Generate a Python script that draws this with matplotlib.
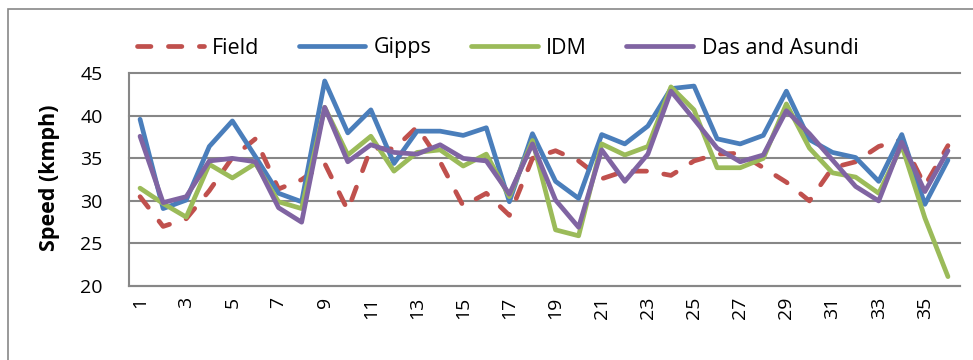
import matplotlib
matplotlib.use('Agg')
import matplotlib.pyplot as plt
from matplotlib.patches import Rectangle

plt.rcParams['font.family'] = ['Open Sans', 'DejaVu Sans']

points = list(range(1, 37))
tick_positions = list(range(1, 36, 2))
tick_labels = [str(t) for t in tick_positions]
y_ticks = [20, 25, 30, 35, 40, 45]

field = [30.5, 27.0, 27.9, 31.2, 35.1, 37.3, 31.4, 32.5, 34.4, 28.9, 36.2, 36.1,
         38.7, 34.6, 29.4, 30.9, 28.3, 35.0, 35.9, 34.7, 32.6, 33.5, 33.5, 33.0,
         34.7, 35.5, 35.6, 33.9, 32.2, 30.0, 33.9, 34.6, 36.4, 37.2, 31.8, 36.5]
gipps = [39.6, 29.1, 30.1, 36.4, 39.4, 35.2, 30.9, 29.9, 44.1, 38.0, 40.7, 34.4,
         38.2, 38.2, 37.7, 38.6, 29.9, 37.9, 32.3, 30.3, 37.8, 36.7, 38.8, 43.2,
         43.5, 37.3, 36.7, 37.7, 42.9, 37.2, 35.7, 35.1, 32.3, 37.8, 29.6, 34.8]
idm = [31.5, 29.7, 28.1, 34.3, 32.7, 34.4, 29.9, 29.1, 41.0, 35.4, 37.6, 33.5,
       35.7, 36.0, 34.1, 35.5, 30.5, 37.1, 26.6, 25.9, 36.7, 35.4, 36.4, 43.4,
       40.7, 33.9, 33.9, 35.0, 41.4, 36.2, 33.3, 32.8, 30.9, 36.5, 28.0, 21.1]
das = [37.6, 29.8, 30.5, 34.7, 35.0, 34.6, 29.2, 27.5, 41.0, 34.6, 36.6, 35.7,
       35.5, 36.6, 35.0, 34.7, 30.8, 36.7, 30.1, 26.9, 36.0, 32.3, 35.5, 42.9,
       39.6, 36.2, 34.6, 35.4, 40.6, 37.9, 34.8, 31.7, 30.0, 36.9, 31.1, 35.9]

W, H = 973, 360
fig = plt.figure(figsize=(W / 100, H / 100), dpi=100)
ax = fig.add_axes([128.5 / W, 1 - 286 / H, (959.5 - 128.5) / W, (286 - 73.3) / H])

lw = 3.4
ax.plot(points, field, color='#C0504D', lw=lw, dashes=(2.85, 3.7),
        dash_capstyle='round', solid_joinstyle='round', label='Field', zorder=3)
ax.plot(points, gipps, color='#4A7EBB', lw=lw, solid_joinstyle='round',
        solid_capstyle='round', label='Gipps', zorder=4)
ax.plot(points, idm, color='#9BBB59', lw=lw, solid_joinstyle='round',
        solid_capstyle='round', label='IDM', zorder=5)
ax.plot(points, das, color='#8064A2', lw=lw, solid_joinstyle='round',
        solid_capstyle='round', label='Das and Asundi', zorder=6)

ax.set_xlim(0.5, 36.5)
ax.set_ylim(20, 45)
ax.set_yticks(y_ticks)
ax.set_xticks(tick_positions)
ax.set_xticklabels(tick_labels, rotation=90)
ax.tick_params(axis='y', length=0, pad=18.5, labelsize=14, colors='#000000')
ax.tick_params(axis='x', length=0, pad=8, labelsize=14)

gc = '#878787'
ax.grid(axis='y', color=gc, lw=1.5, zorder=1)
for gl in ax.get_ygridlines():
    gl.set_clip_on(False)
for s in ['top', 'right']:
    ax.spines[s].set_visible(False)
for s in ['left', 'bottom']:
    ax.spines[s].set_color(gc)
    ax.spines[s].set_linewidth(1.5)

fig.text(50 / W, 1 - 178 / H, 'Speed (kmph)', rotation=90, ha='center',
         va='center', fontsize=15.5, fontweight='bold')

fig.add_artist(Rectangle((7.5 / W, -0.1), 2, 1 - 9 / H + 0.1,
                         transform=fig.transFigure, fill=False,
                         edgecolor=gc, lw=1.2))

fig.legend(loc='center left', bbox_to_anchor=(126 / W, 1 - 48 / H), ncol=4,
           frameon=False, fontsize=15.5, handlelength=3.1, handletextpad=0.39,
           columnspacing=1.83, borderpad=0)

fig.savefig('out.png', dpi=100)
